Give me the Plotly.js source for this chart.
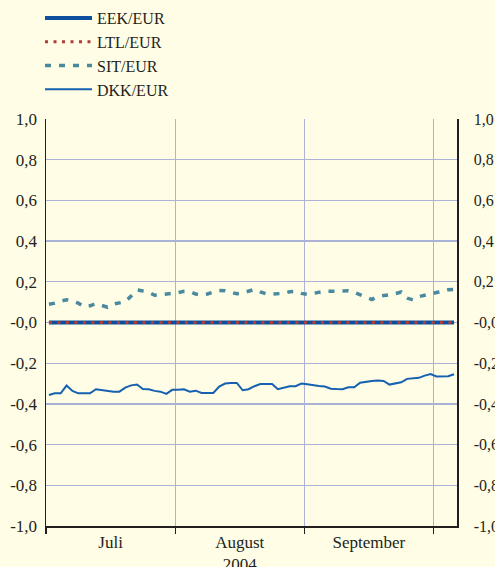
<!DOCTYPE html>
<html>
<head>
<meta charset="utf-8">
<script src="https://cdn.plot.ly/plotly-3.0.1.min.js"></script>
<style>html,body{margin:0;padding:0;background:#fffde6;}</style>
</head>
<body>
<div id="chart" style="width:495px;height:567px;"></div>
<script>
// Business days shown (2004)
const julDays = [1,2,5,6,7,8,9,12,13,14,15,16,19,20,21,22,23,26,27,28,29,30];
const augDays = [2,3,4,5,6,9,10,11,12,13,16,17,18,19,20,23,24,25,26,27,30,31];
const sepDays = [1,2,3,6,7,8,9,10,13,14,15,16,17,20,21,22,23,24,27,28,29,30];
const octDays = [1,4,5,6];

// Month labels and boundaries
const monthLabels = ['Juli', 'August<br>2004', 'September'];
const monthLabelDates = ['2004-07-16', '2004-08-17', '2004-09-16'];
const monthBoundaries = ['2004-07-01', '2004-08-02', '2004-09-01', '2004-10-01'];

// Y ticks
const yTickVals = [-1, -0.8, -0.6, -0.4, -0.2, 0, 0.2, 0.4, 0.6, 0.8, 1];
const yTickText = ['-1,0', '-0,8', '-0,6', '-0,4', '-0,2', '-0,0', '0,2', '0,4', '0,6', '0,8', '1,0'];

// Series (percentage deviation from central rate)
const eekEur = [0,0,0,0,0,0,0,0,0,0, 0,0,0,0,0,0,0,0,0,0, 0,0,0,0,0,0,0,0,0,0, 0,0,0,0,0,0,0,0,0,0,
                0,0,0,0,0,0,0,0,0,0, 0,0,0,0,0,0,0,0,0,0, 0,0,0,0,0,0,0,0,0,0];
const ltlEur = [0,0,0,0,0,0,0,0,0,0, 0,0,0,0,0,0,0,0,0,0, 0,0,0,0,0,0,0,0,0,0, 0,0,0,0,0,0,0,0,0,0,
                0,0,0,0,0,0,0,0,0,0, 0,0,0,0,0,0,0,0,0,0, 0,0,0,0,0,0,0,0,0,0];
const sitEur = [0.090,0.095,0.105,0.112,0.105,0.095,0.077,0.082,0.093,0.084,
                0.075,0.091,0.097,0.102,0.130,0.160,0.155,0.149,0.134,0.136,
                0.140,0.143,0.147,0.153,0.152,0.140,0.135,0.140,0.150,0.157,
                0.156,0.147,0.141,0.145,0.156,0.163,0.150,0.141,0.140,0.140,
                0.143,0.151,0.153,0.143,0.138,0.143,0.150,0.154,0.153,0.155,
                0.156,0.156,0.148,0.137,0.125,0.113,0.128,0.131,0.136,0.142,
                0.150,0.120,0.111,0.127,0.135,0.142,0.147,0.152,0.161,0.163];
const dkkEur = [-0.356,-0.348,-0.348,-0.310,-0.336,-0.348,-0.348,-0.348,-0.328,-0.333,
                -0.336,-0.340,-0.340,-0.320,-0.309,-0.305,-0.327,-0.328,-0.336,-0.340,
                -0.351,-0.331,-0.330,-0.328,-0.340,-0.335,-0.346,-0.346,-0.346,-0.315,
                -0.300,-0.297,-0.297,-0.333,-0.328,-0.313,-0.302,-0.302,-0.302,-0.328,
                -0.322,-0.313,-0.313,-0.300,-0.304,-0.309,-0.312,-0.315,-0.325,-0.327,
                -0.328,-0.318,-0.318,-0.296,-0.290,-0.287,-0.285,-0.287,-0.305,-0.300,
                -0.294,-0.277,-0.276,-0.272,-0.261,-0.253,-0.265,-0.265,-0.264,-0.254];

function pad(n){ return (n < 10 ? '0' : '') + n; }
const dates = [].concat(
  julDays.map(d => '2004-07-' + pad(d) + ' 12:00'),
  augDays.map(d => '2004-08-' + pad(d) + ' 12:00'),
  sepDays.map(d => '2004-09-' + pad(d) + ' 12:00'),
  octDays.map(d => '2004-10-' + pad(d) + ' 12:00')
);

const ink = '#231f20';
const grid = '#aab2d8';

const traces = [
  {name:'EEK/EUR', x:dates, y:eekEur, mode:'lines', line:{color:'#0d4f9c', width:4}},
  {name:'LTL/EUR', x:dates, y:ltlEur, mode:'lines', line:{color:'#b23b36', width:3, dash:'3px,5.5px'}},
  {name:'SIT/EUR', x:dates, y:sitEur, mode:'lines', line:{color:'#4a8aa0', width:3.5, dash:'6px,8px'}},
  {name:'DKK/EUR', x:dates, y:dkkEur, mode:'lines', line:{color:'#1560b0', width:2}},
  {x:[], y:[], yaxis:'y2', showlegend:false, hoverinfo:'skip'}
];

const layout = {
  width:495, height:567,
  paper_bgcolor:'#fffde6', plot_bgcolor:'#fffde6',
  margin:{l:46, r:38, t:119, b:41, autoexpand:false},
  font:{family:'"Liberation Serif", "Times New Roman", serif', size:17, color:ink},
  showlegend:true,
  legend:{xref:'container', yref:'container', x:40/495, y:1-1/567, xanchor:'left', yanchor:'top',
          bgcolor:'rgba(0,0,0,0)', itemwidth:47, font:{size:16, color:ink}, traceorder:'normal'},
  xaxis:{type:'date', range:['2004-07-01','2004-10-07'], rangebreaks:[{bounds:['sat','mon']}],
         tickmode:'array', tickvals:monthLabelDates, ticktext:monthLabels, ticks:'', showgrid:false,
         showline:true, linecolor:ink, linewidth:1.5, zeroline:false,
         minor:{tickmode:'array', tickvals:monthBoundaries, ticks:'outside', ticklen:6, tickcolor:ink, tickwidth:1.2,
                showgrid:true, gridcolor:grid, gridwidth:1.3}},
  yaxis:{range:[-1,1], tickmode:'array', tickvals:yTickVals, ticktext:yTickText, ticks:'',
         showgrid:true, gridcolor:grid, gridwidth:1.3, showline:true, linecolor:ink, linewidth:1.5, zeroline:false,
         ticklabelstandoff:4},
  yaxis2:{overlaying:'y', side:'right', range:[-1,1], tickmode:'array', tickvals:yTickVals, ticktext:yTickText, ticks:'',
          showgrid:false, showline:true, linecolor:ink, linewidth:1.5, zeroline:false, ticklabelstandoff:12,
          tickfont:{size:16}}
};

Plotly.newPlot('chart', traces, layout, {displayModeBar:false, staticPlot:true});
</script>
</body>
</html>
